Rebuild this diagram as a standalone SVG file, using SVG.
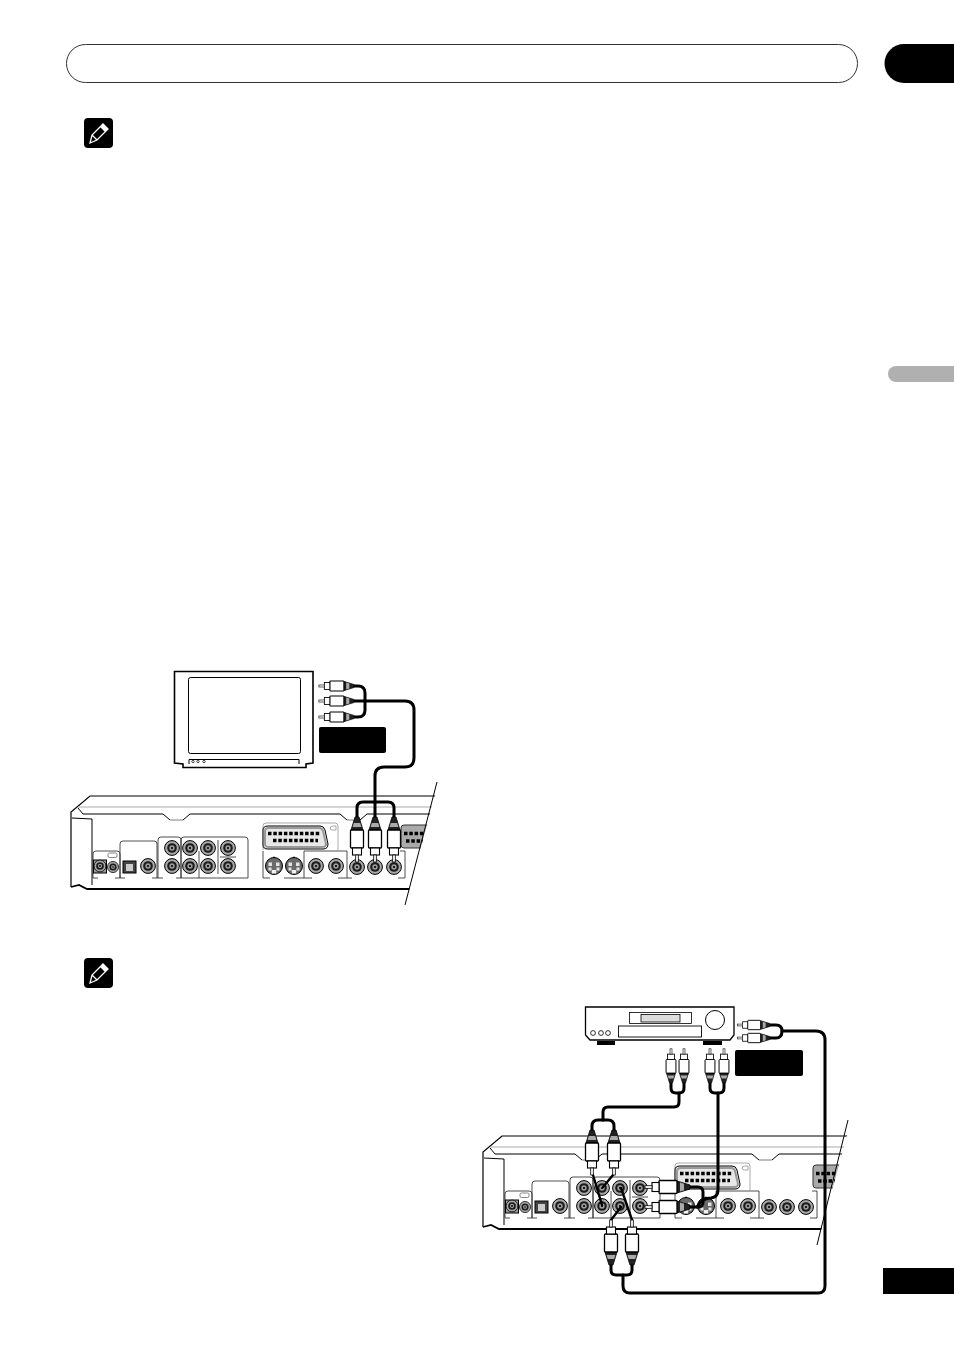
<svg xmlns="http://www.w3.org/2000/svg" xmlns:xlink="http://www.w3.org/1999/xlink" width="954" height="1351" viewBox="0 0 954 1351">
<style>
.ln{fill:none;stroke:#000;stroke-width:1}
.wh{fill:#fff;stroke:#000;stroke-width:1}
.fr{fill:none;stroke:#222;stroke-width:.8}
.gr{fill:none;stroke:#aaa;stroke-width:1}
.cable{fill:none;stroke:#000;stroke-width:3;stroke-linecap:round;stroke-linejoin:round}
.wire{fill:none;stroke:#000;stroke-width:2.4;stroke-linecap:round}
.blk{fill:#000}
.pins{fill:none;stroke:#000;stroke-width:3.500;stroke-dasharray:3.500 1.800}
</style>
<defs>
<g id="jack">
<circle r="7.400" fill="#a8a8a8" stroke="#000" stroke-width="1"/>
<circle r="4.800" fill="#1a1a1a"/>
<circle r="2.700" fill="#999"/>
<circle r="1.100" fill="#000"/>
</g>
<g id="sjack">
<circle r="8.500" fill="#6a6a6a" stroke="#000" stroke-width="1"/>
<rect x="-5.500" y="-3.500" width="3.500" height="3.500" fill="#e4e4e4"/>
<rect x="2" y="-3.500" width="3.500" height="3.500" fill="#e4e4e4"/>
<rect x="-5.500" y="1.500" width="3" height="3" fill="#e4e4e4"/>
<rect x="2.500" y="1.500" width="3" height="3" fill="#e4e4e4"/>
<rect x="-2.200" y="4" width="4.400" height="3.500" fill="#f2f2f2"/>
<path d="M-1,-8 L0,-10 L1,-8 Z" fill="#000"/>
</g>
<g id="plug">
<path d="M-2,0 H2 L6,13 H-6 Z" fill="#222" stroke="#000" stroke-width=".8"/>
<path d="M-3.200,6 H3.200 L4.400,10 H-4.400 Z" fill="#aaa"/>
<rect x="-6.500" y="13" width="13" height="18" rx="1" fill="#fff" stroke="#000" stroke-width="1.300"/>
<rect x="-4.500" y="31" width="9" height="7" fill="#fff" stroke="#000" stroke-width="1.100"/>
<rect x="-1.300" y="38" width="2.600" height="7" fill="#fff" stroke="#000" stroke-width=".8"/>
</g>
<clipPath id="brk"><path d="M60,785 H438 L405,905 H60 Z"/></clipPath>
<g id="recorder" clip-path="url(#brk)">
<path d="M71,887 V812 L90,796 H440 V889 H87 L79,885 Z" fill="#fff"/>
<path d="M71,887 V812 L90,796 H440" class="ln" style="stroke-width:1.2"/>
<path d="M71,887 L79,885 L87,889 H440" class="ln" style="stroke-width:1.8"/>
<path d="M78,807 H440" class="gr"/>
<path d="M78,808 L83,814 H163 L170,820 M183,820 L190,814 H340 L347,820 M360,820 L367,814 H440" class="ln"/>
<path d="M170,820 H183 M347,820 H360" class="gr" style="stroke-width:1.4"/>
<path d="M72,818 L92,819 V885" class="ln"/>
<path d="M93,878 V854 Q93,851 96,851 H117 Q120,851 120,854 V878" class="fr"/>
<path d="M120,878 V844 Q120,841 123,841 H154 Q157,841 157,844 V878" class="fr"/>
<path d="M125,841 H155" class="gr"/>
<path d="M158,878 V840 Q158,837 161,837 H178 Q181,837 181,840 V878" class="fr"/>
<path d="M181,878 V840 Q181,837 184,837 H245 Q248,837 248,840 V878" class="fr"/>
<path d="M93,878 H98 M115,878 H125 M152,878 H163 M176,878 H248 M199,851 V878 M218,840 V874 M220,857 H236" class="fr"/>
<rect x="108" y="853" width="9" height="4.500" rx="1.500" fill="#fff" stroke="#555" stroke-width=".7"/>
<rect x="93.500" y="860" width="13" height="13" fill="#999" stroke="#000"/>
<use xlink:href="#jack" transform="translate(100,866) scale(.8)"/>
<use xlink:href="#jack" transform="translate(113,867) scale(.75)"/>
<rect x="123" y="861" width="13" height="12" fill="#444" stroke="#000"/>
<path d="M126,864 H133 V871 H126 Z" fill="#ccc"/>
<use xlink:href="#jack" x="148" y="866"/>
<use xlink:href="#jack" x="172" y="848"/>
<use xlink:href="#jack" x="172" y="866"/>
<use xlink:href="#jack" x="190" y="848"/>
<use xlink:href="#jack" x="190" y="866"/>
<use xlink:href="#jack" x="208" y="848"/>
<use xlink:href="#jack" x="208" y="866"/>
<use xlink:href="#jack" x="228" y="848"/>
<use xlink:href="#jack" x="228" y="866"/>
<path d="M263,850 V826 Q263,823 266,823 H335 Q338,823 338,826 V850" class="gr"/>
<path d="M263,830 Q263,826 268,826 H320 Q324,826 325,830 L328,844 Q328,849 323,849 H268 Q263,849 263,845 Z" fill="#e8e8e8" stroke="#000" stroke-width="1"/>
<path d="M265,831 Q265,828 269,828 H319 Q322,828 323,831 L326,844 Q326,847 322,847 H269 Q265,847 265,844 Z" fill="none" stroke="#999" stroke-width="2"/>
<path d="M268,833.500 H321 M273,840.500 H318" class="pins"/>
<path d="M330,829 Q330,826 333,826 H336 V830 H332 Z" fill="none" stroke="#888" stroke-width=".7"/>
<use xlink:href="#sjack" x="274" y="866"/>
<use xlink:href="#sjack" x="294" y="866"/>
<use xlink:href="#jack" x="316" y="866"/>
<use xlink:href="#jack" x="336" y="866"/>
<use xlink:href="#jack" x="357" y="867"/>
<use xlink:href="#jack" x="375" y="867"/>
<use xlink:href="#jack" x="394" y="867"/>
<path d="M263,851 V878 H270 M284,878 H304 V851 H347 V878 H338 M312,878 H304 M347,878 H352 M398,878 H405 V851 H400" class="fr"/>
<path d="M401,828 Q401,825 404,825 H430 V848 H404 Q401,848 401,845 Z" fill="#aaa" stroke="#333" stroke-width="1"/>
<path d="M404,833.500 H430 M406,841 H430" class="pins"/>
</g>
</defs>

<g id="header">
<rect x="66.500" y="44.500" width="791" height="38" rx="19" fill="#fff" stroke="#333" stroke-width="1"/>
</g>
<g id="chapter-tab"><path d="M954,44 H904 A19.500,19.500 0 0 0 904,83 H954 Z" class="blk"/></g>
<g id="side-tab"><path d="M954,366 H896 A8,8 0 0 0 896,382 H954 Z" fill="#b0b0b0"/></g>
<g id="page-tab"><rect x="883" y="1268" width="71" height="26" class="blk"/></g>

<g id="note-icon-1">
<rect x="84" y="118" width="29" height="30" rx="4" class="blk"/>
<path d="M90,143 L92,135 L103,124 L108,129 L97,140 Z M92,135 L97,140" fill="none" stroke="#fff" stroke-width="1.300"/>
<path d="M100,127 L105,132 L108,129 L103,124 Z" fill="#fff"/>
</g>
<g id="note-icon-2">
<rect x="84" y="958" width="29" height="30" rx="4" class="blk"/>
<path d="M90,983 L92,975 L103,964 L108,969 L97,980 Z M92,975 L97,980" fill="none" stroke="#fff" stroke-width="1.300"/>
<path d="M100,967 L105,972 L108,969 L103,964 Z" fill="#fff"/>
</g>

<g id="tv">
<path d="M174.500,671.500 H313 V763 L306,764 V767.500 H183 V764 L174.500,763 Z" fill="#fff" stroke="#000" stroke-width="1.600"/>
<rect x="188.500" y="677.500" width="112" height="76" rx="2" fill="#fff" stroke="#000"/>
<path d="M189,764 V759.500 H299 V764" class="ln"/>
<circle cx="193" cy="761.500" r="1.200" class="ln" style="stroke-width:.7"/>
<circle cx="198" cy="761.500" r="1.200" class="ln" style="stroke-width:.7"/>
<circle cx="204" cy="761.500" r="1.200" class="ln" style="stroke-width:.7"/>
</g>
<g id="tv-label"><rect x="319" y="727" width="67" height="26" rx="2" class="blk"/></g>

<g id="recorder-1"><use xlink:href="#recorder"/></g>
<path id="break-1" d="M437,782 L405,905" class="ln"/>

<g id="receiver">
<path d="M585.500,1007 H734 V1035 L730,1040 H590 L585.500,1035 Z" fill="#fff" stroke="#000" stroke-width="1.300"/>
<rect x="597" y="1041" width="18" height="4" class="blk"/>
<rect x="703" y="1041" width="19" height="4" class="blk"/>
<rect x="629.500" y="1012.500" width="62" height="11" fill="#fff" stroke="#000" stroke-width=".8"/>
<rect x="641" y="1014.500" width="39" height="7.500" fill="#ddd" stroke="#000" stroke-width=".8"/>
<rect x="618.500" y="1026" width="83" height="11" fill="#fff" stroke="#000" stroke-width=".9"/>
<circle cx="715" cy="1020" r="9.500" fill="#fff" stroke="#000"/>
<circle cx="593" cy="1033" r="2.400" class="ln" style="stroke-width:.8"/>
<circle cx="601" cy="1033" r="2.400" class="ln" style="stroke-width:.8"/>
<circle cx="608" cy="1033" r="2.400" class="ln" style="stroke-width:.8"/>
</g>
<g id="receiver-label"><rect x="735" y="1050" width="68" height="26" rx="2" class="blk"/></g>

<g id="recorder-2"><use xlink:href="#recorder" transform="translate(412,340)"/></g>
<path id="break-2" d="M848,1120 L817,1245" class="ln"/>

<g id="connectors">
<path class="cable" d="M354,686 H358 Q365,686 365,693 V710 Q365,717 358,717 H354"/>
<path class="cable" d="M354,701 H405 Q414,701 414,710 V758 Q414,767 405,767 H384 Q375,767 375,776 V818"/>
<path class="cable" d="M357,818 V808 Q357,802 363,802 H388 Q394,802 394,808 V818"/>
<use xlink:href="#plug" transform="translate(354,686) rotate(90) scale(.78)"/>
<use xlink:href="#plug" transform="translate(354,701) rotate(90) scale(.78)"/>
<use xlink:href="#plug" transform="translate(354,717) rotate(90) scale(.78)"/>
<use xlink:href="#plug" transform="translate(357,817)"/>
<use xlink:href="#plug" transform="translate(375,817)"/>
<use xlink:href="#plug" transform="translate(394,817)"/>

<path class="wire" d="M593,1175 L602,1205"/>
<path class="wire" d="M613,1175 L603,1187"/>
<path class="wire" d="M611,1220 L621,1207"/>
<path class="wire" d="M632,1220 L621,1188"/>
<path class="cable" d="M592,1130 V1126 Q592,1120 598,1120 H608 Q614,1120 614,1126 V1130"/>
<path class="cable" d="M603,1120 V1112 Q603,1107 608,1107 H674 Q679,1107 679,1102 V1093"/>
<path class="cable" d="M671,1083 V1088 Q671,1093 676,1093 H679 Q684,1093 684,1088 V1083"/>
<path class="cable" d="M710,1083 V1088 Q710,1093 715,1093 H719 Q724,1093 724,1088 V1083"/>
<path class="cable" d="M718,1093 V1190 Q718,1197 711,1198 Q702,1198 697,1207"/>
<path class="cable" d="M688,1187 H698 Q703,1187 703,1192 V1202 Q703,1207 698,1207 H688"/>
<path class="cable" d="M611,1265 V1270 Q611,1275 616,1275 H627 Q632,1275 632,1270 V1265"/>
<path class="cable" d="M623,1275 V1286 Q623,1293 630,1293 H818 Q825,1293 825,1286 V1040 Q825,1031 816,1031 H782"/>
<path class="cable" d="M770,1025 H776 Q782,1025 782,1031 Q782,1038 776,1038 H770"/>
<use xlink:href="#plug" transform="translate(592,1130)"/>
<use xlink:href="#plug" transform="translate(614,1130)"/>
<use xlink:href="#plug" transform="translate(611,1265) rotate(180)"/>
<use xlink:href="#plug" transform="translate(632,1265) rotate(180)"/>
<use xlink:href="#plug" transform="translate(690,1187) rotate(90)"/>
<use xlink:href="#plug" transform="translate(690,1207) rotate(90)"/>
<use xlink:href="#plug" transform="translate(671,1083) rotate(180) scale(.76)"/>
<use xlink:href="#plug" transform="translate(684,1083) rotate(180) scale(.76)"/>
<use xlink:href="#plug" transform="translate(710,1083) rotate(180) scale(.76)"/>
<use xlink:href="#plug" transform="translate(724,1083) rotate(180) scale(.76)"/>
<use xlink:href="#plug" transform="translate(770,1025) rotate(90) scale(.72)"/>
<use xlink:href="#plug" transform="translate(770,1038) rotate(90) scale(.72)"/>
</g>
</svg>
